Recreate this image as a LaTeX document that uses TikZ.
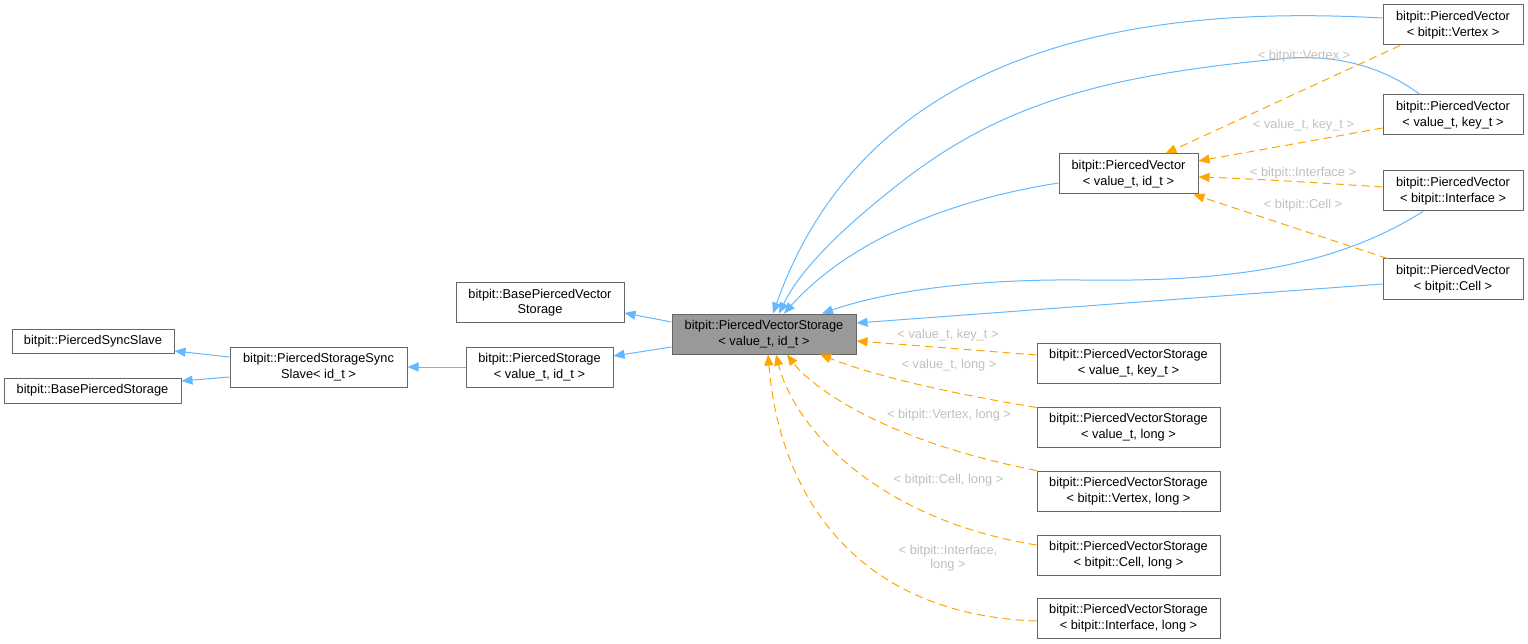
\documentclass[tikz,border=0pt]{standalone}
\usepackage{fontspec}
\setmainfont{Liberation Sans}
\usetikzlibrary{arrows.meta,calc}
\definecolor{edgeblue}{HTML}{63B8FF}
\definecolor{edgeorange}{HTML}{FFA500}
\definecolor{boxline}{HTML}{666666}
\definecolor{mainfill}{HTML}{999999}
\definecolor{lblgray}{HTML}{BFBFBF}
\begin{document}
\begin{tikzpicture}[x=1pt,y=-1pt,
  box/.style={draw=boxline, line width=1pt, fill=white, rectangle, inner sep=0pt,
    align=center, font=\fontsize{12.8}{15.5}\selectfont},
  lbl/.style={text=lblgray, inner sep=0pt, align=center, font=\fontsize{12.8}{14}\selectfont},
  inh/.style={draw=edgeblue, line width=1pt, -{Triangle[length=11pt,width=9pt]}},
  tmpl/.style={draw=edgeorange, line width=1pt, dash pattern=on 8pt off 5pt,
    -{Triangle[length=11pt,width=9pt]}}]
\useasboundingbox (0,0) rectangle (1528,644);

% nodes
\node[box, minimum width=162, minimum height=24] (pss) at (93,341) {bitpit::PiercedSyncSlave};
\node[box, minimum width=177, minimum height=25] (bps) at (92.5,390.5) {bitpit::BasePiercedStorage};
\node[box, minimum width=177, minimum height=40] (pssync) at (318.5,367) {bitpit::PiercedStorageSync\\Slave< id\_t >};
\node[box, minimum width=168, minimum height=39] (bpvs) at (540,302.5) {bitpit::BasePiercedVector\\Storage};
\node[box, minimum width=147, minimum height=40] (ps) at (539.5,367) {bitpit::PiercedStorage\\< value\_t, id\_t >};
\node[box, fill=mainfill, minimum width=184, minimum height=40] (main) at (764,334) {bitpit::PiercedVectorStorage\\< value\_t, id\_t >};
\node[box, minimum width=139, minimum height=40] (pvid) at (1128.5,174) {bitpit::PiercedVector\\< value\_t, id\_t >};
\node[box, minimum width=140, minimum height=40] (pvv) at (1453,25) {bitpit::PiercedVector\\< bitpit::Vertex >};
\node[box, minimum width=140, minimum height=40] (pvk) at (1453,115) {bitpit::PiercedVector\\< value\_t, key\_t >};
\node[box, minimum width=140, minimum height=40] (pvi) at (1453,191) {bitpit::PiercedVector\\< bitpit::Interface >};
\node[box, minimum width=140, minimum height=40] (pvc) at (1453,279) {bitpit::PiercedVector\\< bitpit::Cell >};
\node[box, minimum width=183, minimum height=40] (pvsk) at (1128.5,363) {bitpit::PiercedVectorStorage\\< value\_t, key\_t >};
\node[box, minimum width=183, minimum height=40] (pvsl) at (1128.5,427) {bitpit::PiercedVectorStorage\\< value\_t, long >};
\node[box, minimum width=183, minimum height=40] (pvsv) at (1128.5,491) {bitpit::PiercedVectorStorage\\< bitpit::Vertex, long >};
\node[box, minimum width=183, minimum height=40] (pvsc) at (1128.5,555) {bitpit::PiercedVectorStorage\\< bitpit::Cell, long >};
\node[box, minimum width=183, minimum height=40] (pvsi) at (1128.5,618) {bitpit::PiercedVectorStorage\\< bitpit::Interface, long >};

% inheritance edges (blue)
\draw[inh] ($(pssync.west)+(0,-10)$) -- ($(pss.east)+(0,10)$);
\draw[inh] ($(pssync.west)+(0,10)$) -- ($(bps.east)+(0,-9.5)$);
\draw[inh] (ps.west) -- (pssync.east);
\draw[inh] ($(main.west)+(0,-12)$) -- ($(bpvs.east)+(0,10.5)$);
\draw[inh] ($(main.west)+(0,13)$) -- ($(ps.east)+(0,-11)$);
\draw[inh] ($(pvv.west)+(0,-7)$) .. controls (1150,5) and (870,40) .. ($(main.north)+(9,0)$);
\draw[inh] ($(pvk.north)+(-33,0)$) .. controls (1385,68) and (1340,55) .. (1290,58)
  .. controls (1100,75) and (1000,105) .. (900,183)
  .. controls (840,230) and (800,270) .. ($(main.north)+(15,0)$);
\draw[inh] ($(pvid.west)+(0,9)$) .. controls (950,200) and (850,240) .. ($(main.north)+(20,0)$);
\draw[inh] ($(pvi.south)+(-30,0)$) .. controls (1330,270) and (1220,282) .. (1080,280)
  .. controls (980,279) and (890,290) .. ($(main.north)+(58,0)$);
\draw[inh] ($(pvc.west)+(0,5)$) -- ($(main.east)+(0,-11)$);

% template edges (orange, dashed)
\draw[tmpl] ($(pvv.south)+(-53,0)$) -- ($(pvid.north)+(37,0)$);
\draw[tmpl] ($(pvk.west)+(0,13)$) -- ($(pvid.east)+(0,-13)$);
\draw[tmpl] ($(pvi.west)+(0,-4)$) .. controls (1320,183) and (1260,179) .. ($(pvid.east)+(0,3)$);
\draw[tmpl] ($(pvc.north west)+(5,0)$) -- ($(pvid.south east)+(-5,0)$);
\draw[tmpl] ($(pvsk.west)+(0,-8)$) -- ($(main.east)+(0,7)$);
\draw[tmpl] ($(pvsl.north west)+(0,1)$) .. controls (960,395) and (880,378) .. ($(main.south)+(56,0)$);
\draw[tmpl] (pvsv.north west) .. controls (880,440) and (810,385) .. ($(main.south)+(23,0)$);
\draw[tmpl] ($(pvsc.west)+(0,-10)$) .. controls (880,520) and (795,430) .. ($(main.south)+(12,0)$);
\draw[tmpl] ($(pvsi.west)+(0,3)$) .. controls (860,615) and (780,500) .. ($(main.south)+(4,0)$);

% labels
\node[lbl] (l1) at (1304,56) {< bitpit::Vertex >};
\node[lbl] (l2) at (1303.5,125) {< value\_t, key\_t >};
\node[lbl] (l3) at (1303,173) {< bitpit::Interface >};
\node[lbl] (l4) at (1303,205) {< bitpit::Cell >};
\node[lbl] (l5) at (948,335) {< value\_t, key\_t >};
\node[lbl] (l6) at (949,365) {< value\_t, long >};
\node[lbl] (l7) at (949,415) {< bitpit::Vertex, long >};
\node[lbl] (l8) at (948.5,480) {< bitpit::Cell, long >};
\node[lbl] (l9) at (948,558) {< bitpit::Interface,\\long >};
\end{tikzpicture}
\end{document}
